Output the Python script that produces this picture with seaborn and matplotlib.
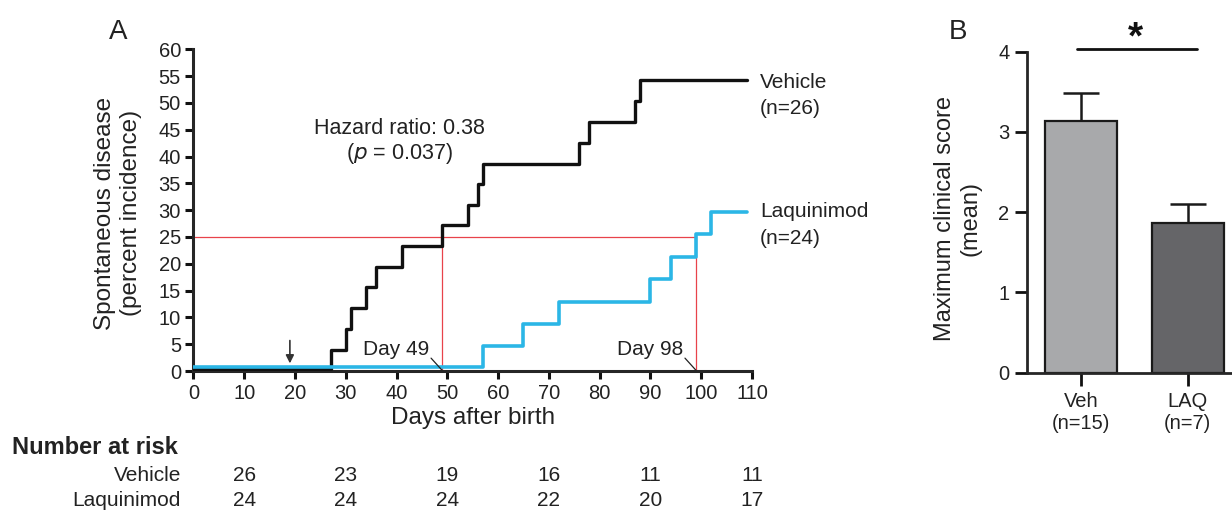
import matplotlib
matplotlib.use("Agg")
import matplotlib.pyplot as plt
import seaborn as sns
import pandas as pd

# ---------------- data ----------------
veh_days = [0, 27, 30, 31, 34, 36, 41, 49, 54, 56, 57, 76, 78, 87, 88, 109]
veh_pct = [0.3, 4.0, 7.9, 11.7, 15.6, 19.4, 23.3, 27.2, 31.0, 34.9, 38.7, 42.6, 46.5, 50.3, 54.2, 54.2]
laq_days = [0, 57, 65, 72, 90, 94, 99, 102, 109]
laq_pct = [0.7, 4.7, 8.7, 12.9, 17.1, 21.2, 25.5, 29.6, 29.6]

median_level = 25
median_days = [49, 99]
median_labels = ["Day 49", "Day 98"]
treatment_day = 19

risk_days = [10, 30, 50, 70, 90, 110]
risk_vehicle = [26, 23, 19, 16, 11, 11]
risk_laq = [24, 24, 24, 22, 20, 17]

bar_cats = ["Veh\n(n=15)", "LAQ\n(n=7)"]
bar_means = [3.14, 1.86]
bar_sem = [0.35, 0.24]

BLACK = "#111111"
BLUE = "#2BB6E6"
RED = "#E8434A"
TXT = "#222222"

sns.set_style("ticks")
plt.rcParams["font.family"] = ["Liberation Sans", "DejaVu Sans"]
plt.rcParams["axes.linewidth"] = 2.2

W, H = 1232, 511
fig = plt.figure(figsize=(W / 100, H / 100), dpi=100)

def px_axes(l, t, r, b):
    return fig.add_axes([l / W, 1 - b / H, (r - l) / W, (b - t) / H])

# ---------------- panel A ----------------
A_L, A_T, A_R, A_B = 193.4, 49.3, 752, 371
axA = px_axes(A_L, A_T, A_R, A_B)
sns.lineplot(x=veh_days, y=veh_pct, ax=axA, drawstyle="steps-post", color=BLACK, lw=2.4, zorder=3)
sns.lineplot(x=laq_days, y=laq_pct, ax=axA, drawstyle="steps-post", color=BLUE, lw=2.6, zorder=4)

axA.plot([0, median_days[1]], [median_level, median_level], color=RED, lw=0.9, zorder=2)
for d in median_days:
    axA.plot([d, d], [0, median_level], color=RED, lw=0.9, zorder=2)

for d, lab in zip(median_days, median_labels):
    axA.text(d - 2.6, 2.2, lab, ha="right", va="bottom", fontsize=15, color=TXT)
    axA.plot([d - 2.2, d], [2.4, 0.1], color=TXT, lw=0.9, zorder=5)

axA.annotate("", xy=(treatment_day, 0.9), xytext=(treatment_day, 6.2),
             arrowprops=dict(arrowstyle="-|>", color="#333333", lw=1.2, mutation_scale=12))

axA.text(40.5, 45.3, "Hazard ratio: 0.38", ha="center", va="center", fontsize=15.5, color=TXT)
axA.text(40.5, 40.6, "($\\it{p}$ = 0.037)", ha="center", va="center", fontsize=15.5, color=TXT)

for y, s in [(53.9, "Vehicle"), (49.0, "(n=26)"), (29.7, "Laquinimod"), (24.8, "(n=24)")]:
    axA.text(111.6, y, s, ha="left", va="center", fontsize=15, color=TXT, clip_on=False)

axA.set_xlim(0, 110)
axA.set_ylim(0, 60)
axA.set_xticks(range(0, 111, 10))
axA.set_yticks(range(0, 61, 5))
axA.tick_params(axis="both", labelsize=14.5, width=2.2, length=6, colors="#111111", labelcolor=TXT, pad=3)
axA.set_xlabel("Days after birth", fontsize=17.5, color=TXT, labelpad=3)
axA.set_ylabel("Spontaneous disease\n(percent incidence)", fontsize=17.5, color=TXT, linespacing=1.2)
axA.yaxis.label.set_va("center")
axA.yaxis.set_label_coords((118 - A_L) / (A_R - A_L), 0.49)
sns.despine(ax=axA)

fig.text(118 / W, 1 - 32 / H, "A", fontsize=20, ha="center", va="center", color=TXT)

# number at risk table
fig.text(12 / W, 1 - 448 / H, "Number at risk", fontsize=17, fontweight="bold", ha="left", va="center", color=TXT)
fig.text(181 / W, 1 - 475 / H, "Vehicle", fontsize=15, ha="right", va="center", color=TXT)
fig.text(181 / W, 1 - 500 / H, "Laquinimod", fontsize=15, ha="right", va="center", color=TXT)
trans = matplotlib.transforms.blended_transform_factory(axA.transData, fig.transFigure)
for d, v, l in zip(risk_days, risk_vehicle, risk_laq):
    axA.text(d, 1 - 475 / H, str(v), transform=trans, ha="center", va="center", fontsize=15, color=TXT, clip_on=False)
    axA.text(d, 1 - 500 / H, str(l), transform=trans, ha="center", va="center", fontsize=15, color=TXT, clip_on=False)

# ---------------- panel B ----------------
B_L, B_T, B_B = 1026.7, 51.7, 372.7
axB = px_axes(B_L, B_T, B_L + 2.21 * 106.5, B_B)
df = pd.DataFrame({"group": bar_cats, "score": bar_means})
sns.barplot(data=df, x="group", y="score", hue="group", palette=["#A7A9AC", "#646568"],
            legend=False, ax=axB, width=0.676, edgecolor="#1a1a1a", linewidth=1.6, zorder=2)
axB.errorbar(range(len(bar_means)), bar_means, yerr=[[0, 0], bar_sem], fmt="none",
             ecolor="#1a1a1a", elinewidth=1.8, capsize=13, capthick=1.8, zorder=1)
axB.set_xlim(-0.51, 1.70)
axB.set_ylim(0, 4)
axB.set_yticks(range(0, 5))
axB.tick_params(axis="y", labelsize=14.5, width=2, length=9, colors="#111111", labelcolor=TXT)
axB.tick_params(axis="x", labelsize=14.5, width=2, length=9, colors="#111111", labelcolor=TXT, pad=5)
axB.set_xlabel("")
axB.set_ylabel("Maximum clinical score\n(mean)", fontsize=17, color=TXT, linespacing=1.2)
axB.yaxis.label.set_va("center")
axB.yaxis.set_label_coords((957.5 - B_L) / (2.21 * 106.5), 0.48)
for s in ["left", "bottom"]:
    axB.spines[s].set_linewidth(2)
sns.despine(ax=axB)

axB.plot([-0.04, 1.09], [4.03, 4.03], color="#111111", lw=2, clip_on=False)
axB.text(0.51, 4.17, "*", ha="center", va="center", fontsize=28, fontweight="bold", color="#111111", clip_on=False)

fig.text(958 / W, 1 - 32 / H, "B", fontsize=20, ha="center", va="center", color=TXT)

fig.savefig("out.png", dpi=100)
